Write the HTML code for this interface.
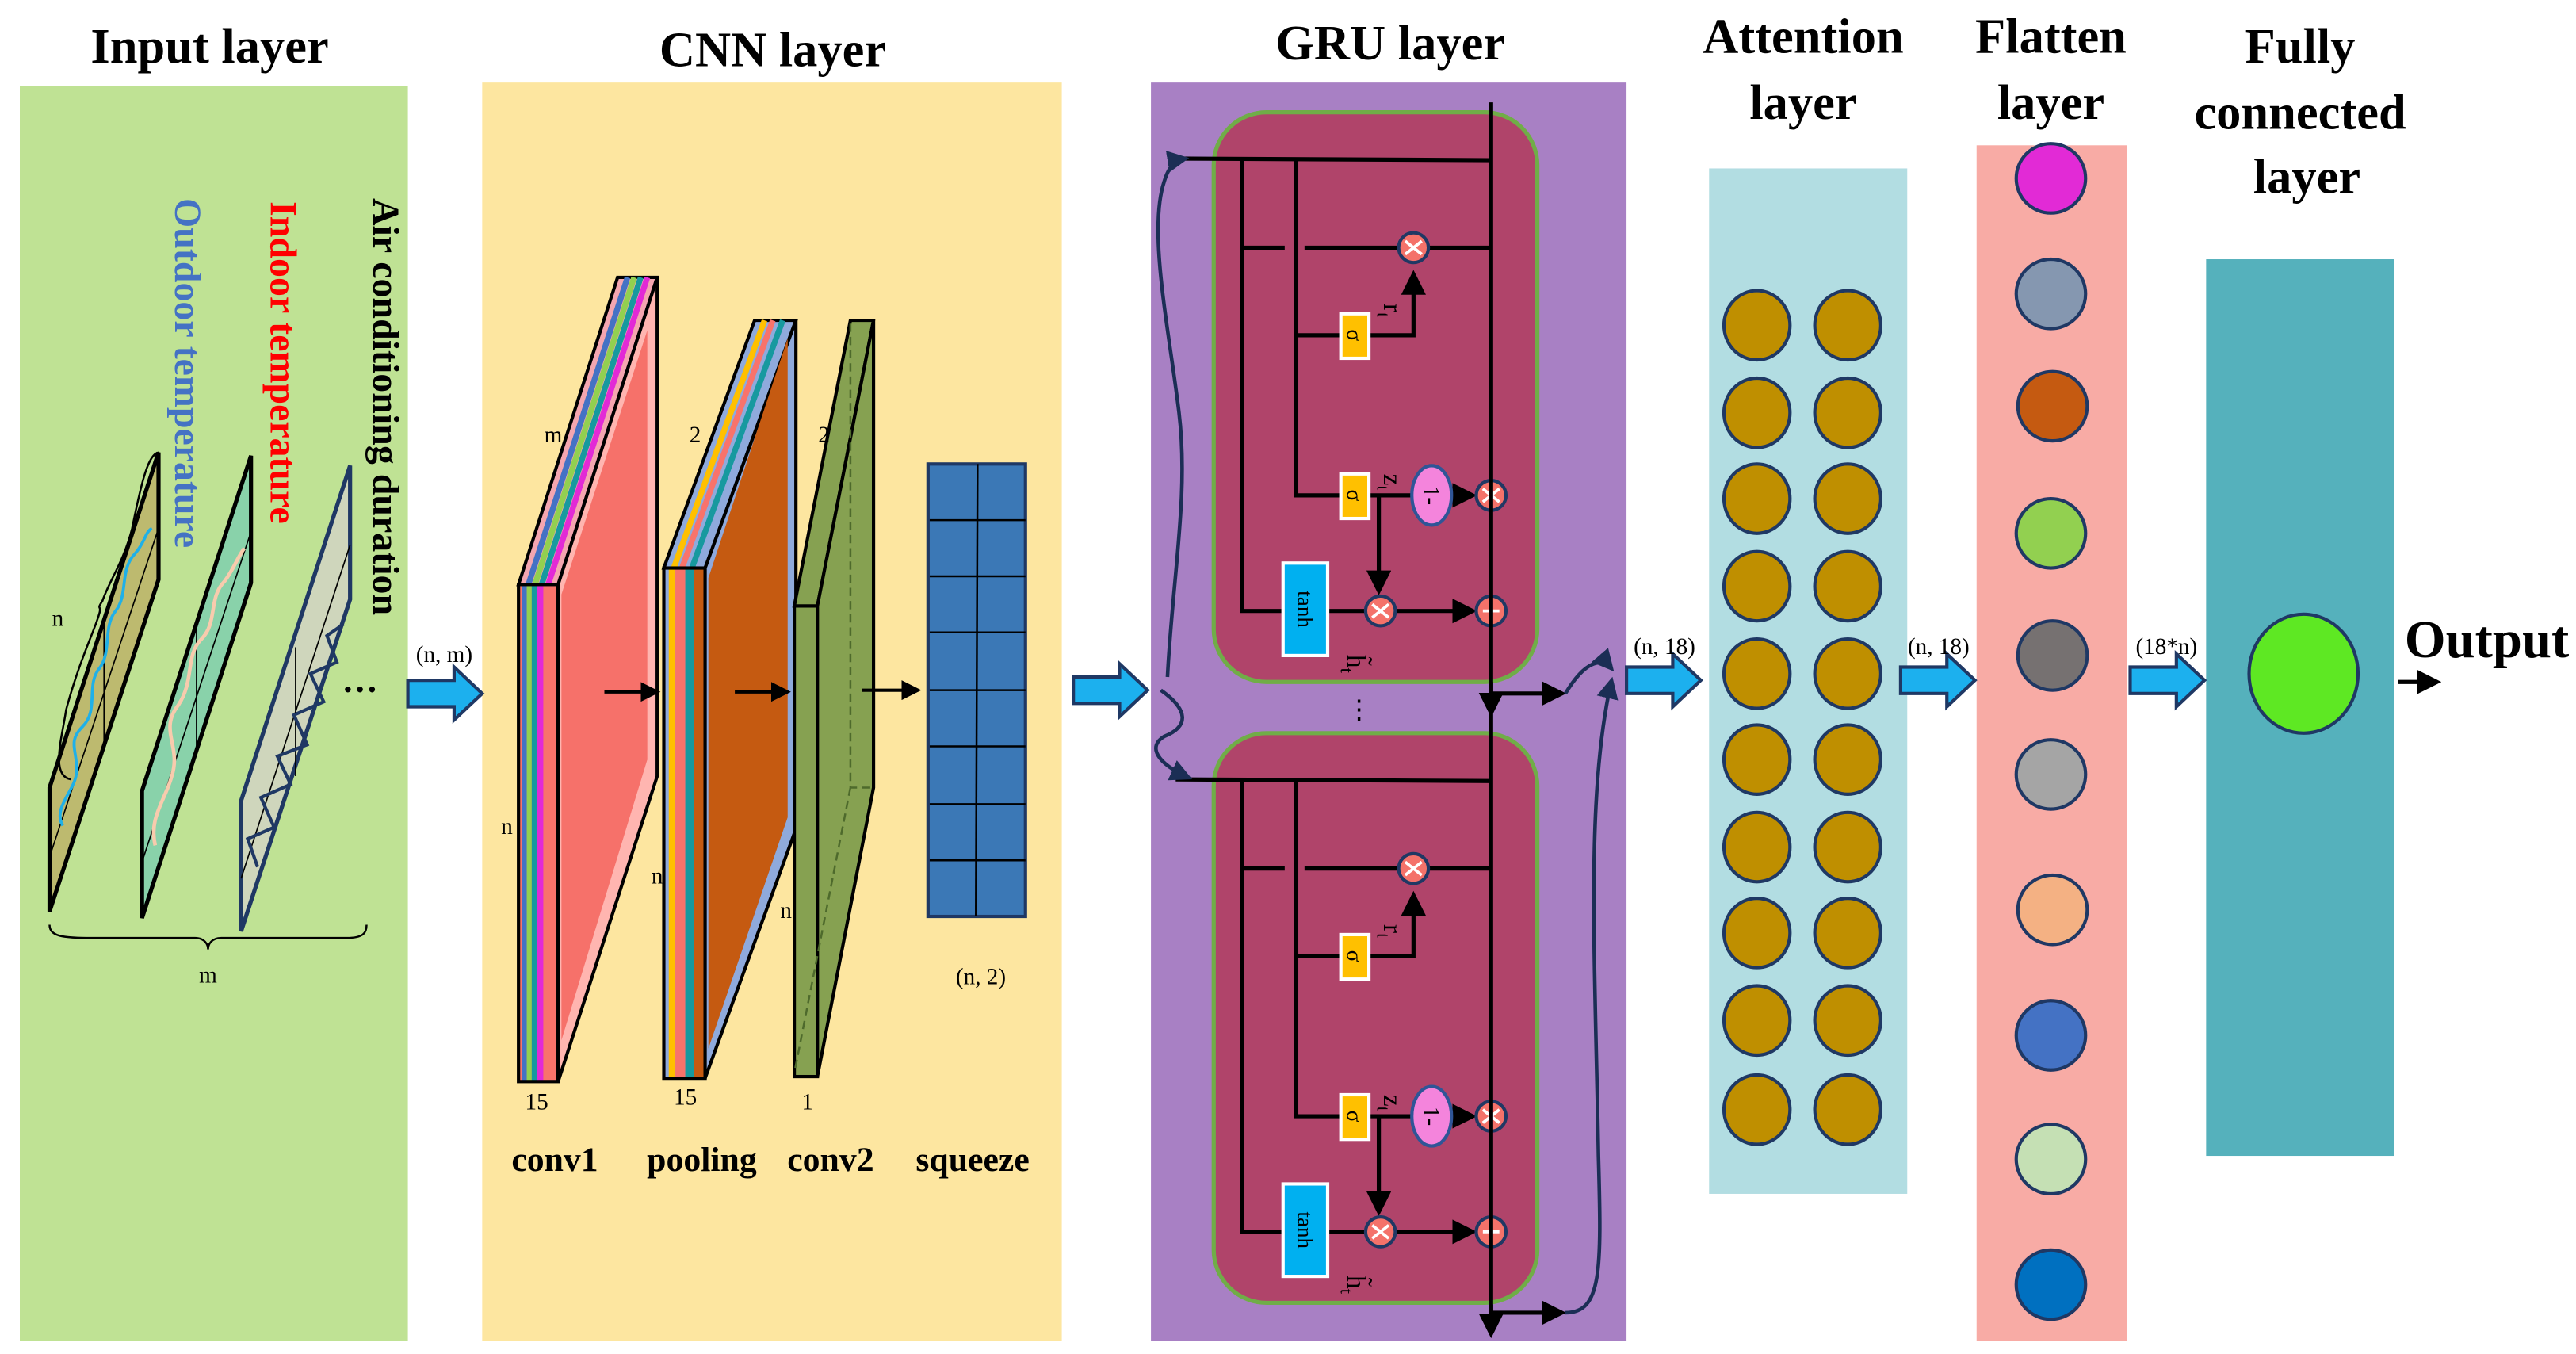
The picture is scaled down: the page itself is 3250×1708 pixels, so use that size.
<!DOCTYPE html>
<html><head><meta charset="utf-8"><style>
html,body{margin:0;padding:0;background:#fff;}
svg{display:block;}
text{font-family:"Liberation Serif",serif;}
</style></head><body>
<svg width="3250" height="1708" viewBox="0 0 1560 820" preserveAspectRatio="none" xmlns="http://www.w3.org/2000/svg">
<defs>
<marker id="ah" markerWidth="6" markerHeight="6" refX="5" refY="3" orient="auto" markerUnits="strokeWidth"><path d="M0,0 L6,3 L0,6 z" fill="#000"/></marker>
<marker id="ahn" markerWidth="6" markerHeight="6" refX="5" refY="3" orient="auto" markerUnits="strokeWidth"><path d="M0,0 L6,3 L0,6 z" fill="#1b2e55"/></marker>
<g id="bigarrow"><path d="M0,-8 L28,-8 L28,-16 L45,0 L28,16 L28,8 L0,8 z" fill="#1cb0ee" stroke="#1f3864" stroke-width="2"/></g>
<g id="mul"><circle r="9" fill="#f4726a" stroke="#203864" stroke-width="2"/><path d="M-5,-4 L5,4 M-5,4 L5,-4" stroke="#fff" stroke-width="1.8"/></g>
<g id="add"><circle r="9" fill="#f4726a" stroke="#203864" stroke-width="2"/><path d="M-5,0 L5,0 M0,-5 L0,5" stroke="#fff" stroke-width="1.8"/></g>
<g id="cell">
<rect x="735" y="68" width="196" height="345" rx="32" fill="#b0446a" stroke="#70ad47" stroke-width="2.5"/>
<g stroke="#000" stroke-width="2.5" fill="none">
<path d="M712,96 L903,97"/>
<path d="M752,96 L752,370 L776,370"/>
<path d="M785,96 L785,300 L812,300"/>
<path d="M752,150 L778,150 M790,150 L847,150 M865,150 L903,150"/>
<path d="M785,203 L812,203"/>
<path d="M829,203 L856,203 L856,166" marker-end="url(#ah)"/>
<path d="M829,300 L855,300"/>
<path d="M879,300 L892,300" marker-end="url(#ah)"/>
<path d="M835,300 L835,358" marker-end="url(#ah)"/>
<path d="M804,370 L827,370"/>
<path d="M845,370 L892,370" marker-end="url(#ah)"/>
</g>
<rect x="812" y="190" width="17" height="27" fill="#ffc000" stroke="#fff" stroke-width="2"/>
<text transform="translate(816,203) rotate(90)" font-size="13" text-anchor="middle">σ</text>
<rect x="812" y="287" width="17" height="27" fill="#ffc000" stroke="#fff" stroke-width="2"/>
<text transform="translate(816,300) rotate(90)" font-size="13" text-anchor="middle">σ</text>
<rect x="777" y="341" width="27" height="56" fill="#00b0f0" stroke="#fff" stroke-width="2"/>
<text transform="translate(786,369) rotate(90)" font-family="Liberation Sans" font-size="13" text-anchor="middle">tanh</text>
<text transform="translate(838,188) rotate(90)" font-size="16" text-anchor="middle">r<tspan font-size="11" dy="4">t</tspan></text>
<text transform="translate(838,292) rotate(90)" font-size="16" text-anchor="middle">z<tspan font-size="11" dy="4">t</tspan></text>
<text transform="translate(816,402) rotate(90)" font-size="16" text-anchor="middle">h̃<tspan font-size="11" dy="4">t</tspan></text>
<ellipse cx="867" cy="300" rx="12" ry="18" fill="#f484dc" stroke="#2f5597" stroke-width="2"/>
<text transform="translate(862,300) rotate(90)" font-size="14" text-anchor="middle">1-</text>
<use href="#mul" x="856" y="150"/>
<use href="#mul" x="903" y="300"/>
<use href="#mul" x="836" y="370"/>
<use href="#add" x="903" y="370"/>
</g>
</defs>

<!-- panels -->
<rect x="12" y="52" width="235" height="760" fill="#bfe294"/>
<rect x="292" y="50" width="351" height="762" fill="#fde6a0"/>
<rect x="697" y="50" width="288" height="762" fill="#a880c4"/>
<rect x="1035" y="102" width="120" height="621" fill="#b2dde2"/>
<rect x="1197" y="88" width="91" height="724" fill="#f8aba5"/>
<rect x="1336" y="157" width="114" height="543" fill="#55b1bc"/>

<!-- titles -->
<g font-weight="bold" font-size="30" text-anchor="middle">
<text x="127" y="38">Input layer</text>
<text x="468" y="40">CNN layer</text>
<text x="842" y="36">GRU layer</text>
<text x="1092" y="32">Attention</text>
<text x="1092" y="72">layer</text>
<text x="1242" y="32">Flatten</text>
<text x="1242" y="72">layer</text>
<text x="1393" y="38">Fully</text>
<text x="1393" y="78">connected</text>
<text x="1397" y="117">layer</text>
<text x="1506" y="398" font-size="32">Output</text>
</g>

<!-- input rotated labels -->
<g font-weight="bold" font-size="23">
<text transform="translate(226,120) rotate(90)" fill="#000">Air conditioning duration</text>
<text transform="translate(164,122) rotate(90)" fill="#ff0000">Indoor temperature</text>
<text transform="translate(106,120) rotate(90)" fill="#4472c4">Outdoor temperature</text>
</g>

<!-- input planes -->
<polygon points="30,477 96,274 96,351 30,552" fill="#bdba6f" stroke="#000" stroke-width="2.5"/>
<path d="M63,378 L63,453 M30,519 L96,320" stroke="#000" stroke-width="0.8"/>
<path d="M38,500 C32,490 44,480 46,470 C48,455 40,450 50,440 C60,430 52,415 60,405 C68,395 62,380 70,370 C78,360 72,345 82,335 C88,328 88,322 92,320" stroke="#1fb0e8" stroke-width="1.8" fill="none"/>
<polygon points="86,479 152,276 152,353 86,556" fill="#89d2aa" stroke="#000" stroke-width="2.5"/>
<path d="M119,380 L119,455 M86,522 L152,322" stroke="#000" stroke-width="0.8"/>
<path d="M94,512 C90,495 100,485 104,470 C110,452 96,442 108,427 C118,412 112,397 122,387 C132,377 126,362 136,352 C142,344 144,337 148,332" stroke="#f8cbad" stroke-width="2.2" fill="none"/>
<polygon points="146,485 212,282 212,363 146,564" fill="#cfd6bc" stroke="#1f3864" stroke-width="2.5"/>
<path d="M179,392 L179,470 M146,532 L212,330" stroke="#000" stroke-width="0.8"/>
<path d="M156,525 L150,508 L166,501 L158,483 L176,475 L168,458 L186,451 L178,433 L196,425 L188,408 L204,401 L198,385 L208,378" stroke="#1f3864" stroke-width="2" fill="none"/>
<text x="218" y="425" font-size="22" text-anchor="middle" font-weight="bold">···</text>
<path d="M43,472 C30,470 38,445 40,430 C48,400 58,380 60,372 C62,366 58,370 62,364 C66,352 75,340 80,320 C86,290 90,275 96,274" stroke="#000" stroke-width="1.2" fill="none"/>
<text x="35" y="379" font-size="14" text-anchor="middle">n</text>
<path d="M30,560 C30,568 40,568 60,568 L118,568 C124,568 126,572 126,575 C126,572 128,568 134,568 L210,568 C220,568 222,565 222,560" stroke="#000" stroke-width="1.2" fill="none"/>
<text x="126" y="595" font-size="14" text-anchor="middle">m</text>

<use href="#bigarrow" x="247" y="420"/>
<text x="269" y="401" font-size="14" text-anchor="middle">(n, m)</text>

<!-- conv1 -->
<polygon points="314,354 374,168 398,168 338,354" fill="#f4a6b0" stroke="#000" stroke-width="2"/>
<g stroke-width="3.5">
<line x1="320" y1="354" x2="380" y2="168" stroke="#4472c4"/>
<line x1="324" y1="354" x2="384" y2="168" stroke="#92d050"/>
<line x1="328" y1="354" x2="388" y2="168" stroke="#17999f"/>
<line x1="332" y1="354" x2="392" y2="168" stroke="#e22ad6"/>
</g>
<rect x="314" y="354" width="24" height="301" fill="#f8736b"/>
<rect x="316" y="354" width="3" height="301" fill="#4472c4"/>
<rect x="319" y="354" width="3" height="301" fill="#92d050"/>
<rect x="322" y="354" width="3" height="301" fill="#17999f"/>
<rect x="325" y="354" width="4" height="301" fill="#e22ad6"/>
<rect x="314" y="354" width="24" height="301" fill="none" stroke="#000" stroke-width="2"/>
<polygon points="338,354 398,168 398,470 338,655" fill="#ffb5b0" stroke="#000" stroke-width="2"/>
<polygon points="340,360 392,200 392,460 340,630" fill="#f6716a"/>
<!-- pooling -->
<polygon points="402,344 457,194 482,194 427,344" fill="#8faadc" stroke="#000" stroke-width="2"/>
<g stroke-width="3.5">
<line x1="408" y1="344" x2="463" y2="194" stroke="#ffc000"/>
<line x1="413" y1="344" x2="468" y2="194" stroke="#f8736b"/>
<line x1="419" y1="344" x2="474" y2="194" stroke="#17999f"/>
</g>
<rect x="402" y="344" width="25" height="309" fill="#8faadc"/>
<rect x="405" y="344" width="4" height="309" fill="#ffc000"/>
<rect x="409" y="344" width="6" height="309" fill="#f8736b"/>
<rect x="415" y="344" width="5" height="309" fill="#17999f"/>
<rect x="420" y="344" width="7" height="309" fill="#c55a11"/>
<rect x="402" y="344" width="25" height="309" fill="none" stroke="#000" stroke-width="2"/>
<polygon points="427,344 482,194 482,502 427,653" fill="#8faadc" stroke="#000" stroke-width="2"/>
<polygon points="429,350 477,205 477,495 429,635" fill="#c55a11"/>
<!-- conv2 -->
<polygon points="481,367 515,194 529,194 495,367" fill="#86a151" stroke="#000" stroke-width="2"/>
<rect x="481" y="367" width="14" height="285" fill="#86a151" stroke="#000" stroke-width="2"/>
<polygon points="495,367 529,194 529,477 495,652" fill="#86a151" stroke="#000" stroke-width="2"/>
<path d="M515,196 L515,477 L529,477 M515,477 L481,650" stroke="#4e6a2c" stroke-width="1.2" stroke-dasharray="5,3" fill="none"/>
<!-- squeeze -->
<rect x="562" y="281" width="59" height="274" fill="#3b78b6" stroke="#1f3864" stroke-width="2"/>
<g stroke="#000" stroke-width="1.2">
<line x1="592" y1="281" x2="591" y2="555"/>
<line x1="563" y1="315" x2="621" y2="315"/><line x1="563" y1="349" x2="621" y2="349"/>
<line x1="563" y1="383" x2="621" y2="383"/><line x1="563" y1="418" x2="621" y2="418"/>
<line x1="563" y1="452" x2="621" y2="452"/><line x1="563" y1="487" x2="621" y2="487"/>
<line x1="563" y1="521" x2="621" y2="521"/>
</g>
<g stroke="#000" stroke-width="2" marker-end="url(#ah)">
<line x1="366" y1="419" x2="398" y2="419"/>
<line x1="445" y1="419" x2="477" y2="419"/>
<line x1="522" y1="418" x2="556" y2="418"/>
</g>
<g font-size="14" text-anchor="middle">
<text x="335" y="268">m</text><text x="421" y="268">2</text><text x="499" y="268">2</text>
<text x="307" y="505">n</text><text x="398" y="535">n</text><text x="476" y="556">n</text>
<text x="325" y="672">15</text><text x="415" y="669">15</text><text x="489" y="672">1</text>
<text x="594" y="596">(n, 2)</text>
</g>
<g font-size="21" font-weight="bold" text-anchor="middle">
<text x="336" y="709">conv1</text><text x="425" y="709">pooling</text><text x="503" y="709">conv2</text><text x="589" y="709">squeeze</text>
</g>

<use href="#bigarrow" x="650" y="418"/>

<!-- GRU -->
<use href="#cell"/>
<use href="#cell" y="376"/>
<line x1="903" y1="62" x2="903" y2="805" stroke="#000" stroke-width="2.5"/>
<path d="M903,413 L903,432" stroke="#000" stroke-width="2.5" marker-end="url(#ah)"/>
<path d="M903,790 L903,808" stroke="#000" stroke-width="2.5" marker-end="url(#ah)"/>
<text x="823" y="435" font-size="16" text-anchor="middle">⋮</text>
<g stroke="#000" stroke-width="2.5" marker-end="url(#ah)">
<line x1="903" y1="420" x2="946" y2="420"/>
<line x1="903" y1="795" x2="946" y2="795"/>
</g>
<g stroke="#1b2e55" stroke-width="2.2" fill="none" marker-end="url(#ahn)">
<path d="M707,410 C710,350 720,300 714,250 C708,200 695,140 705,110 C708,100 712,97 718,96"/>
<path d="M703,418 C720,430 720,440 705,446 C695,452 700,462 720,471"/>
<path d="M948,420 C960,400 970,398 976,405"/>
<path d="M948,795 C970,795 970,770 968,700 C966,580 960,480 976,412"/>
</g>

<use href="#bigarrow" x="985" y="412"/>
<use href="#bigarrow" x="1151" y="412"/>
<use href="#bigarrow" x="1290" y="412"/>
<g font-size="14" text-anchor="middle">
<text x="1008" y="396">(n, 18)</text><text x="1174" y="396">(n, 18)</text><text x="1312" y="396">(18*n)</text>
</g>

<!-- attention circles -->
<g fill="#bf8f00" stroke="#1f3864" stroke-width="2">
<ellipse cx="1064" cy="197" rx="20" ry="21"/><ellipse cx="1119" cy="197" rx="20" ry="21"/>
<ellipse cx="1064" cy="250" rx="20" ry="21"/><ellipse cx="1119" cy="250" rx="20" ry="21"/>
<ellipse cx="1064" cy="302" rx="20" ry="21"/><ellipse cx="1119" cy="302" rx="20" ry="21"/>
<ellipse cx="1064" cy="355" rx="20" ry="21"/><ellipse cx="1119" cy="355" rx="20" ry="21"/>
<ellipse cx="1064" cy="408" rx="20" ry="21"/><ellipse cx="1119" cy="408" rx="20" ry="21"/>
<ellipse cx="1064" cy="460" rx="20" ry="21"/><ellipse cx="1119" cy="460" rx="20" ry="21"/>
<ellipse cx="1064" cy="513" rx="20" ry="21"/><ellipse cx="1119" cy="513" rx="20" ry="21"/>
<ellipse cx="1064" cy="565" rx="20" ry="21"/><ellipse cx="1119" cy="565" rx="20" ry="21"/>
<ellipse cx="1064" cy="618" rx="20" ry="21"/><ellipse cx="1119" cy="618" rx="20" ry="21"/>
<ellipse cx="1064" cy="672" rx="20" ry="21"/><ellipse cx="1119" cy="672" rx="20" ry="21"/>
</g>
<!-- flatten circles -->
<g stroke="#1f3864" stroke-width="2">
<ellipse cx="1242" cy="108" rx="21" ry="21" fill="#e22ad6"/>
<ellipse cx="1242" cy="178" rx="21" ry="21" fill="#8597b0"/>
<ellipse cx="1243" cy="246" rx="21" ry="21" fill="#c55a11"/>
<ellipse cx="1242" cy="323" rx="21" ry="21" fill="#92d050"/>
<ellipse cx="1243" cy="397" rx="21" ry="21" fill="#767171"/>
<ellipse cx="1242" cy="469" rx="21" ry="21" fill="#a5a5a5"/>
<ellipse cx="1243" cy="551" rx="21" ry="21" fill="#f4b183"/>
<ellipse cx="1242" cy="627" rx="21" ry="21" fill="#4472c4"/>
<ellipse cx="1242" cy="702" rx="21" ry="21" fill="#c5e0b4"/>
<ellipse cx="1242" cy="778" rx="21" ry="21" fill="#0070c0"/>
</g>
<ellipse cx="1395" cy="408" rx="33" ry="36" fill="#5ee823" stroke="#1f3864" stroke-width="2"/>
<path d="M1452,413 L1476,413" stroke="#000" stroke-width="2.5" marker-end="url(#ah)"/>
</svg>
</body></html>
